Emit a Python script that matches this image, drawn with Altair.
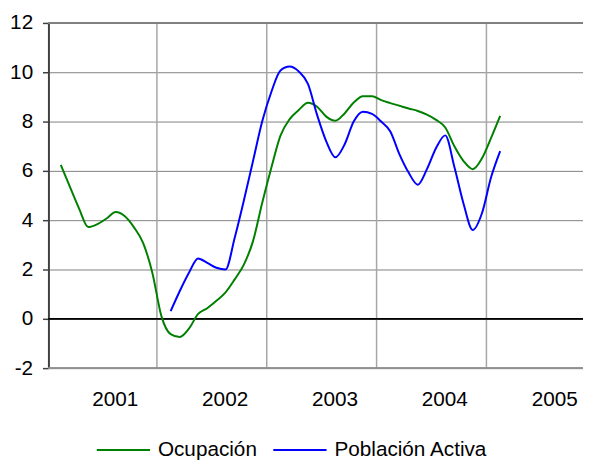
import altair as alt
import pandas as pd

# Month index counted from January 2001 (0 = Jan 2001)
years = [2001, 2002, 2003, 2004, 2005]
series_names = ["Ocupación", "Población Activa"]
series_colors = ["#008000", "#0000FF"]

ocupacion_start = 1   # Feb 2001
ocupacion = [6.24, 5.35, 4.47, 3.72, 3.84, 4.07, 4.33, 4.16, 3.71, 3.07,
             1.87, 0.1, -0.62, -0.74, -0.4, 0.2, 0.43, 0.73, 1.07, 1.6,
             2.2, 3.15, 4.7, 6.13, 7.43, 8.1, 8.47, 8.76, 8.6, 8.2,
             8.03, 8.33, 8.77, 9.03, 9.03, 8.87, 8.75, 8.64, 8.53, 8.43,
             8.28, 8.07, 7.76, 7.0, 6.4, 6.07, 6.5, 7.33, 8.23]

activa_start = 13     # Feb 2002
activa = [0.31, 1.13, 1.87, 2.45, 2.27, 2.07, 2.0, 3.29, 4.8, 6.4,
          8.0, 9.2, 10.07, 10.23, 10.03, 9.53, 8.27, 7.2, 6.55, 7.07,
          8.0, 8.4, 8.31, 8.0, 7.6, 6.67, 5.93, 5.44, 6.07, 6.93,
          7.44, 6.16, 4.67, 3.6, 4.27, 5.73, 6.8]

y_ticks = [-2, 0, 2, 4, 6, 8, 10, 12]

rows = []
for i, v in enumerate(ocupacion):
    rows.append({"t": ocupacion_start + i + 0.5, "v": v, "serie": series_names[0]})
for i, v in enumerate(activa):
    rows.append({"t": activa_start + i + 0.5, "v": v, "serie": series_names[1]})
df = pd.DataFrame(rows)

bounds = pd.DataFrame({"t": [(y - years[0]) * 12 for y in years[1:]]})
label_pos = [(y - years[0]) * 12 + 7.4 for y in years]

FONT = "Liberation Sans"
FS = 21
W, H = 542, 350
xscale = alt.Scale(domain=[0.15, 58.55], nice=False, zero=False)
yscale = alt.Scale(domain=[-2, 12], nice=False, zero=False)

vgrid = alt.Chart(bounds).mark_rule(color="#A6A6A6", strokeWidth=1.5).encode(
    x=alt.X("t:Q", scale=xscale,
            axis=alt.Axis(values=label_pos,
                          labelExpr="floor(datum.value / 12) + 2001",
                          grid=False, ticks=False, domain=False,
                          labelFontSize=FS, labelPadding=21, labelColor="black",
                          labelFont=FONT, title=None))
)

lines = alt.Chart(df).mark_line(strokeWidth=2, interpolate="monotone").encode(
    x=alt.X("t:Q", scale=xscale, title=None),
    y=alt.Y("v:Q", scale=yscale,
            axis=alt.Axis(values=y_ticks, grid=True, gridColor="#808080", gridWidth=1,
                          labelExpr="'' + datum.value",
                          domainColor="#404040", domainWidth=2,
                          tickColor="#404040", tickSize=6, tickWidth=1.5,
                          labelFontSize=FS, labelPadding=10, labelColor="black",
                          labelFont=FONT, title=None)),
    color=alt.Color("serie:N",
                    scale=alt.Scale(domain=series_names, range=series_colors),
                    legend=alt.Legend(orient="none", legendX=48, legendY=405,
                                      direction="horizontal", symbolType="stroke",
                                      symbolSize=2916, symbolStrokeWidth=2,
                                      labelFontSize=FS, labelFont=FONT, labelColor="black",
                                      labelOffset=7, columnPadding=12, padding=0,
                                      title=None)),
)

zero = alt.Chart(bounds).mark_rule(color="black", strokeWidth=1).encode(y=alt.datum(0))
top = alt.Chart(bounds).mark_rule(color="#808080", strokeWidth=2).encode(y=alt.datum(12))
bottom = alt.Chart(bounds).mark_rule(color="#909090", strokeWidth=1.5).encode(y=alt.datum(-2))

chart = alt.layer(vgrid, zero, lines, top, bottom).properties(
    width=W, height=H,
    autosize=alt.AutoSizeParams(type="none"),
    padding={"left": 41, "top": 12, "right": 0, "bottom": 90},
).configure_view(fill="#FFFFCC", stroke="transparent").configure(font=FONT)

chart.save("out.html", embed_options={"renderer": "svg", "actions": False})
